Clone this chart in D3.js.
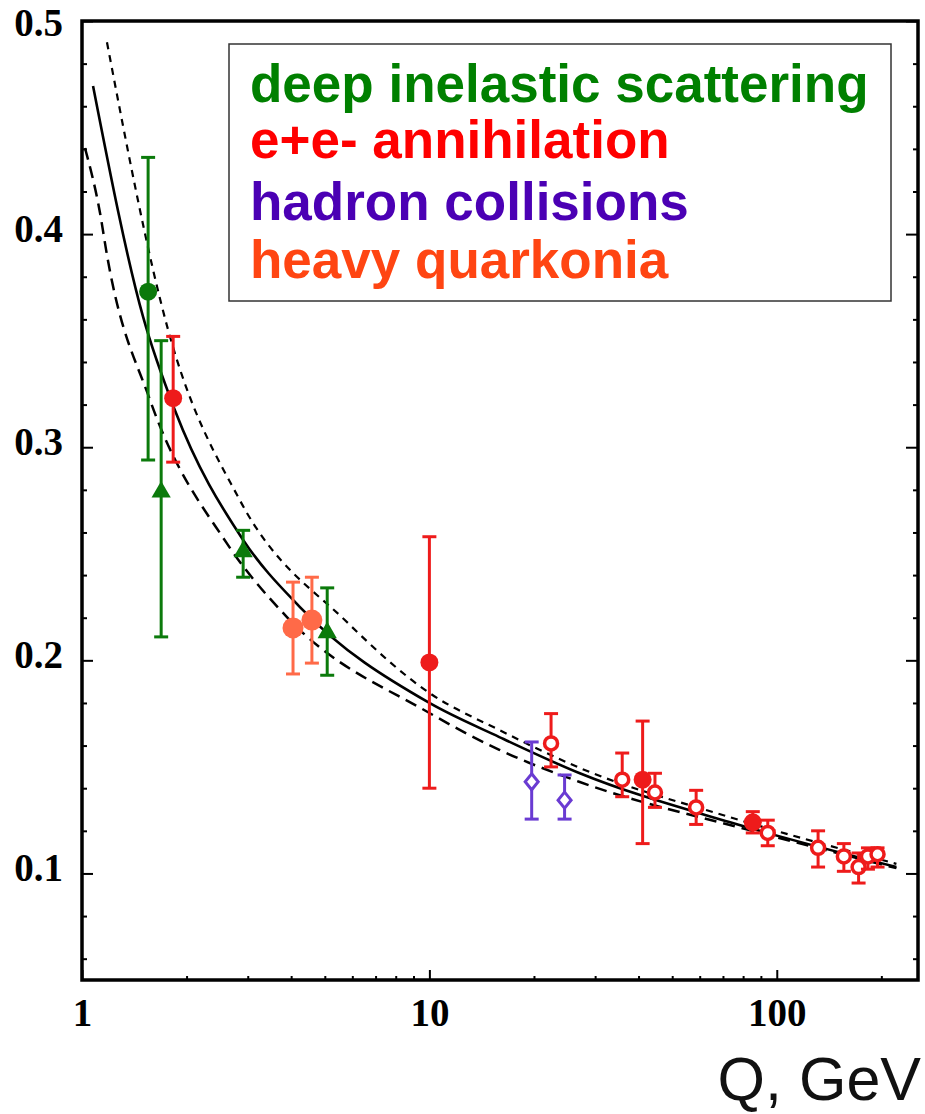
<!DOCTYPE html>
<html>
<head>
<meta charset="utf-8">
<script src="https://cdn.jsdelivr.net/npm/d3@7"></script>
<style>
  body { margin: 0; background: #fff; }
  svg { display: block; }
</style>
</head>
<body>
<div class="chart-area"></div>
<script>
// measured points, Q in GeV
const disQ     = [1.55, 1.69, 2.91, 5.08];
const disAlpha = [0.373, 0.279, 0.251, 0.213];
const disLo    = [0.294, 0.211, 0.239, 0.193];
const disHi    = [0.436, 0.350, 0.261, 0.234];
const disShape = ["circle", "triangle", "triangle", "triangle"];

const eeQ      = [1.83, 10.0, 22.4, 35.9, 41.1, 44.6, 58.6, 85.3, 94.2, 131.5, 156, 172, 183, 195];
const eeAlpha  = [0.323, 0.199, 0.161, 0.144, 0.144, 0.138, 0.131, 0.124, 0.119, 0.112, 0.108, 0.103, 0.108, 0.109];
const eeLo     = [0.293, 0.140, 0.150, 0.136, 0.114, 0.131, 0.123, 0.119, 0.113, 0.103, 0.101, 0.0955, 0.102, 0.103];
const eeHi     = [0.352, 0.258, 0.175, 0.1565, 0.1715, 0.147, 0.139, 0.129, 0.125, 0.120, 0.114, 0.1096, 0.112, 0.112];
const eeShape  = ["circle", "circle", "open", "open", "circle", "open", "open", "circle", "open", "open", "open", "open", "open", "open"];

const hadQ     = [19.7, 24.5];
const hadAlpha = [0.143, 0.1344];
const hadLo    = [0.1255, 0.1255];
const hadHi    = [0.1617, 0.1462];

const qqQ      = [4.05, 4.59];
const qqAlpha  = [0.2152, 0.2189];
const qqLo     = [0.1936, 0.1987];
const qqHi     = [0.2367, 0.239];

// theory bands
const centralQ = [1.076, 1.5, 1.85, 2.91, 4.24, 10, 15.9, 27.1, 73.4, 221];
const centralA = [0.4695, 0.361, 0.3175, 0.2565, 0.225, 0.180, 0.164, 0.147, 0.124, 0.103];
const upperQ   = [1.18, 1.77, 2.85, 5.83, 10, 15.9, 27.1, 73, 221];
const upperA   = [0.49, 0.355, 0.275, 0.2175, 0.1847, 0.1673, 0.1495, 0.1265, 0.1045];
const lowerQ   = [1.02, 1.127, 1.18, 1.57, 2.61, 3.89, 10, 15.9, 27.1, 85, 221];
const lowerA   = [0.4404, 0.4099, 0.3902, 0.3221, 0.255, 0.2203, 0.1753, 0.158, 0.1429, 0.120, 0.1025];

const yMajor = [0.1, 0.2, 0.3, 0.4, 0.5];
const xMajor = [1, 10, 100];

const legendNames  = ["deep inelastic scattering", "e+e- annihilation", "hadron collisions", "heavy quarkonia"];
const legendColors = ["#008000", "#ff0000", "#4b00b4", "#ff4512"];

let width = 925, height = 1114;
let mLeft = 82, mRight = 918, mTop = 21, mBottom = 980;

let svg = d3.select("div.chart-area").append("svg")
  .attr("width", width)
  .attr("height", height);

svg.append("rect").attr("width", width).attr("height", height).attr("fill", "#fff");

let x = d3.scaleLog().domain([1, 255]).range([mLeft, mRight]);
let y = d3.scaleLinear().domain([0.05, 0.5]).range([mBottom, mTop]);

let yMinor = d3.range(6, 50, 2).map(function(d) { return d / 100; })
  .filter(function(d) { return Math.round(d * 100) % 10 !== 0; });
let xMinor = [2, 3, 4, 5, 6, 7, 8, 9, 20, 30, 40, 50, 60, 70, 80, 90, 200];

let serif = "'Liberation Serif', 'Times New Roman', serif";
let sans = "'Liberation Sans', Arial, sans-serif";

function styleAxis(g) {
  g.select(".domain").remove();
  g.selectAll(".tick line").attr("stroke", "#000").attr("stroke-width", 2);
  g.selectAll(".tick text")
    .attr("fill", "#000")
    .style("font-family", serif)
    .style("font-weight", "bold")
    .style("font-size", "39px");
}

// left axis
svg.append("g").attr("transform", "translate(" + mLeft + ",0)")
  .call(d3.axisRight(y).tickValues(yMinor).tickSize(5).tickFormat(""))
  .call(styleAxis);
svg.append("g").attr("transform", "translate(" + mLeft + ",0)")
  .call(d3.axisLeft(y).tickValues(yMajor).tickSizeInner(-11).tickSizeOuter(0).tickPadding(19)
    .tickFormat(d3.format(".1f")))
  .call(styleAxis)
  .selectAll(".tick text").attr("dy", function(d) { return d === 0.5 ? "0.38em" : "0.18em"; });

// right axis
svg.append("g").attr("transform", "translate(" + mRight + ",0)")
  .call(d3.axisLeft(y).tickValues(yMinor).tickSize(5).tickFormat(""))
  .call(styleAxis);
svg.append("g").attr("transform", "translate(" + mRight + ",0)")
  .call(d3.axisLeft(y).tickValues(yMajor).tickSize(12).tickFormat(""))
  .call(styleAxis);

// bottom axis
svg.append("g").attr("transform", "translate(0," + mBottom + ")")
  .call(d3.axisTop(x).tickValues(xMinor).tickSize(4).tickFormat(""))
  .call(styleAxis);
svg.append("g").attr("transform", "translate(0," + mBottom + ")")
  .call(d3.axisBottom(x).tickValues(xMajor).tickSizeInner(-10).tickSizeOuter(0).tickPadding(18)
    .tickFormat(d3.format("d")))
  .call(styleAxis);

// frame
svg.append("rect")
  .attr("x", mLeft).attr("y", mTop)
  .attr("width", mRight - mLeft).attr("height", mBottom - mTop)
  .attr("fill", "none").attr("stroke", "#000").attr("stroke-width", 3.5);

// curves
let line = d3.line()
  .x(function(d) { return x(d[0]); })
  .y(function(d) { return y(d[1]); })
  .curve(d3.curveMonotoneX);

function pairs(qs, as) { return qs.map(function(q, i) { return [q, as[i]]; }); }

svg.append("path").datum(pairs(upperQ, upperA))
  .attr("d", line).attr("fill", "none").attr("stroke", "#000")
  .attr("stroke-width", 2.2).attr("stroke-dasharray", "7,6");
svg.append("path").datum(pairs(lowerQ, lowerA))
  .attr("d", line).attr("fill", "none").attr("stroke", "#000")
  .attr("stroke-width", 2.5).attr("stroke-dasharray", "12,7");
svg.append("path").datum(pairs(centralQ, centralA))
  .attr("d", line).attr("fill", "none").attr("stroke", "#000")
  .attr("stroke-width", 2.6);

// data points
function drawSet(qs, as, los, his, shapes, color) {
  let pts = qs.map(function(q, i) {
    return {q: q, a: as[i], lo: los[i], hi: his[i], shape: shapes[i]};
  });
  let g = svg.append("g");
  let node = g.selectAll(".pt")
    .data(pts)
    .enter().append("g")
    .attr("class", "pt");

  node.append("line")
    .attr("x1", function(d) { return x(d.q); })
    .attr("x2", function(d) { return x(d.q); })
    .attr("y1", function(d) { return y(d.lo); })
    .attr("y2", function(d) { return y(d.hi); })
    .attr("stroke", color).attr("stroke-width", 3);
  ["lo", "hi"].forEach(function(k) {
    node.append("line")
      .attr("x1", function(d) { return x(d.q) - 7; })
      .attr("x2", function(d) { return x(d.q) + 7; })
      .attr("y1", function(d) { return y(d[k]); })
      .attr("y2", function(d) { return y(d[k]); })
      .attr("stroke", color).attr("stroke-width", 3);
  });

  node.each(function(d) {
    let el = d3.select(this);
    let cx = x(d.q), cy = y(d.a);
    if (d.shape === "circle") {
      el.append("circle").attr("cx", cx).attr("cy", cy).attr("r", 9).attr("fill", color);
    } else if (d.shape === "big") {
      el.append("circle").attr("cx", cx).attr("cy", cy).attr("r", 10.5).attr("fill", color);
    } else if (d.shape === "open") {
      el.append("circle").attr("cx", cx).attr("cy", cy).attr("r", 6.5)
        .attr("fill", "#fff").attr("stroke", color).attr("stroke-width", 3.5);
    } else if (d.shape === "triangle") {
      el.append("path")
        .attr("d", d3.symbol().type(d3.symbolTriangle).size(160))
        .attr("transform", "translate(" + cx + "," + cy + ")")
        .attr("fill", color);
    } else if (d.shape === "diamond") {
      el.append("path")
        .attr("d", "M0,-8L6.5,0L0,8L-6.5,0Z")
        .attr("transform", "translate(" + cx + "," + cy + ")")
        .attr("fill", "#fff").attr("stroke", color).attr("stroke-width", 3);
    }
  });
}

drawSet(qqQ, qqAlpha, qqLo, qqHi, qqQ.map(function() { return "big"; }), "#ff6a48");
drawSet(disQ, disAlpha, disLo, disHi, disShape, "#0b7a0b");
drawSet(hadQ, hadAlpha, hadLo, hadHi, hadQ.map(function() { return "diamond"; }), "#6a3bd2");
drawSet(eeQ, eeAlpha, eeLo, eeHi, eeShape, "#ee1b1b");

// legend
let legend = svg.append("g");
legend.append("rect")
  .attr("x", 229).attr("y", 44)
  .attr("width", 662).attr("height", 257)
  .attr("fill", "#fff").attr("stroke", "#333").attr("stroke-width", 1.5);
let legendBase = [102, 158, 220, 278];
legend.selectAll("text")
  .data(legendNames)
  .enter().append("text")
  .attr("x", 250)
  .attr("y", function(d, i) { return legendBase[i]; })
  .attr("fill", function(d, i) { return legendColors[i]; })
  .style("font-family", sans)
  .style("font-weight", "bold")
  .style("font-size", "53px")
  .text(function(d) { return d; });

// axis title
svg.append("text")
  .attr("x", 921).attr("y", 1100)
  .attr("text-anchor", "end")
  .style("font-family", sans)
  .style("font-size", "61px")
  .attr("fill", "#111")
  .text("Q, GeV");
</script>
</body>
</html>
